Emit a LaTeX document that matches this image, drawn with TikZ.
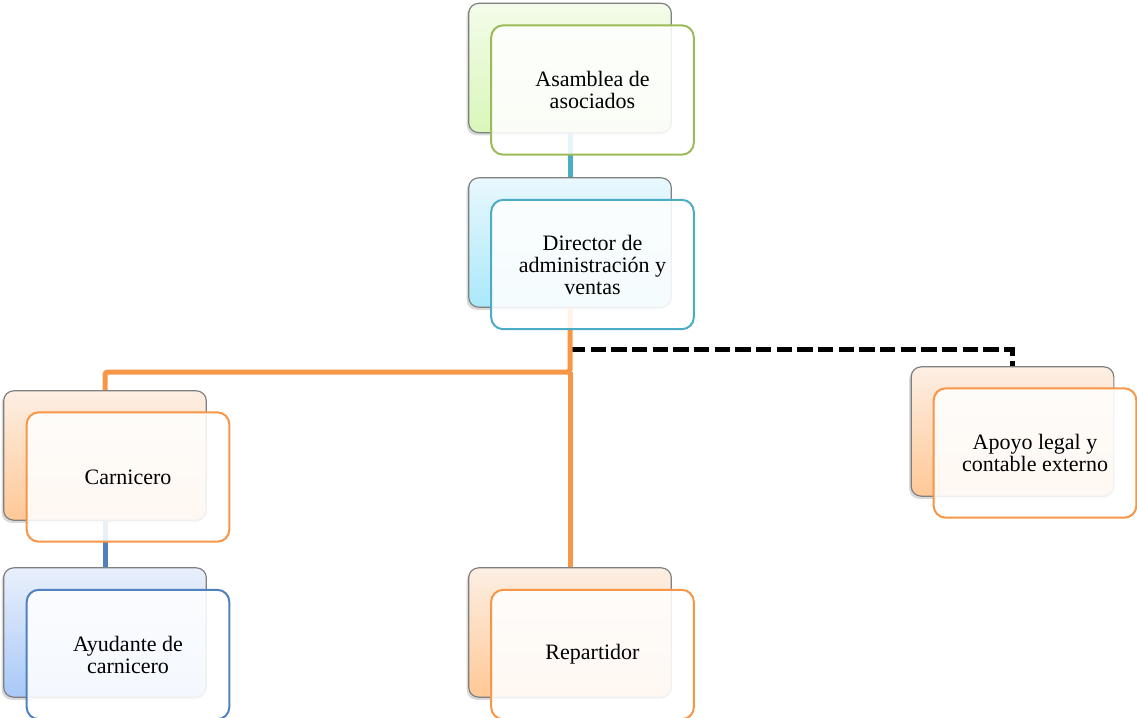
\documentclass[tikz,border=0pt]{standalone}
\usepackage{fontspec}
\setmainfont{Liberation Serif}
\usetikzlibrary{shadows}
\definecolor{greenedge}{HTML}{9BBB59}
\definecolor{greentop}{HTML}{F3FCEA}
\definecolor{greenbot}{HTML}{DAF6BA}
\definecolor{cyanedge}{HTML}{4BACC6}
\definecolor{cyantop}{HTML}{E9F8FD}
\definecolor{cyanbot}{HTML}{AAE8FA}
\definecolor{orangeedge}{HTML}{F79646}
\definecolor{orangetop}{HTML}{FDEFE4}
\definecolor{orangebot}{HTML}{FFC896}
\definecolor{blueedge}{HTML}{4F81BD}
\definecolor{bluetop}{HTML}{E9F0FC}
\definecolor{bluebot}{HTML}{A8C8F7}
\definecolor{backedge}{HTML}{7F7F7F}
\begin{document}
\begin{tikzpicture}[x=0.75pt,y=-0.75pt,
  backbox/.style={rectangle, rounded corners=7.5pt, draw=backedge, line width=0.9pt,
    minimum width=152pt, minimum height=97pt, inner sep=0pt,
    drop shadow={shadow xshift=-1.5pt, shadow yshift=-2pt, opacity=0.3}},
  frontbox/.style={rectangle, rounded corners=9pt, line width=1.5pt, fill=white,
    fill opacity=0.88, text opacity=1, minimum width=152pt, minimum height=97pt,
    inner sep=0pt, align=center, font=\fontsize{16.5}{16.5}\selectfont},
  gback/.style={backbox, top color=greentop, bottom color=greenbot},
  cback/.style={backbox, top color=cyantop, bottom color=cyanbot},
  oback/.style={backbox, top color=orangetop, bottom color=orangebot},
  bback/.style={backbox, top color=bluetop, bottom color=bluebot},
  link/.style={line width=3.75pt},
  dashlink/.style={line width=3.75pt, black, dash pattern=on 11.5pt off 4pt}
]
\useasboundingbox (0,0) rectangle (1137,717);

% back boxes
\node[gback] (aB) at (570,68) {};
\node[cback] (dB) at (570,242.5) {};
\node[oback] (cB) at (105,455.5) {};
\node[bback] (yB) at (105,632.5) {};
\node[oback] (rB) at (570,632.5) {};
\node[oback] (pB) at (1012.5,431.5) {};

% connectors
\coordinate (j) at (570,372);
\coordinate (k) at (570,349);
\draw[link, cyanedge] (aB.south) -- (dB.north);
\draw[dashlink] (k) -| (pB.north);
\draw[link, orangeedge, rounded corners=2pt] (dB.south) -- (j) -| (cB.north);
\draw[link, orangeedge] (j) -- (rB.north);
\draw[link, blueedge] (cB.south) -- (yB.north);

% front boxes
\node[frontbox, draw=greenedge] (a) at (592.5,90) {Asamblea de\\asociados};
\node[frontbox, draw=cyanedge] (d) at (592.5,264.5) {Director de\\administración y\\ventas};
\node[frontbox, draw=orangeedge] (c) at (128,477) {Carnicero};
\node[frontbox, draw=blueedge] (y) at (128,654.5) {Ayudante de\\carnicero};
\node[frontbox, draw=orangeedge] (r) at (592.5,654.5) {Repartidor};
\node[frontbox, draw=orangeedge] (p) at (1035,453) {Apoyo legal y\\contable externo};
\end{tikzpicture}
\end{document}
